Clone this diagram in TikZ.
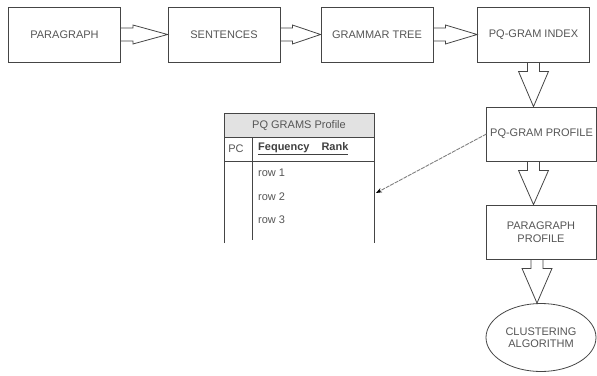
\documentclass[tikz,border=0pt]{standalone}
\usepackage{fontspec}
\setmainfont{Liberation Sans}
\usetikzlibrary{calc,shapes.geometric,arrows.meta}
\definecolor{linegray}{HTML}{454545}
\definecolor{textgray}{HTML}{555555}
\definecolor{headgray}{HTML}{E2E2E2}

% hollow arrow, left to right between two boxes
\newcommand{\harrow}[2]{%
  \draw[fatarrow] let \p1=(#1.east), \p2=(#2.west) in
    (\x1,\y1+6.5pt) -- (\x1+12pt,\y1+6.5pt) -- (\x1+12pt,\y1+9.5pt)
    -- (\x2,\y1) -- (\x1+12pt,\y1-9.5pt) -- (\x1+12pt,\y1-6.5pt) -- (\x1,\y1-6.5pt);}
% hollow arrow, downwards, optional x offset
\newcommand{\varrow}[3][0pt]{%
  \draw[fatarrow] let \p1=(#2.south), \p2=(#3.north), \n1={\x1+(#1)} in
    (\n1-6pt,\y1) -- (\n1-6pt,\y1-9pt) -- (\n1-15pt,\y1-9pt)
    -- (\n1,\y2) -- (\n1+15pt,\y1-9pt) -- (\n1+6pt,\y1-9pt) -- (\n1+6pt,\y1);}

\begin{document}
\begin{tikzpicture}[x=1pt, y=-1pt,
    box/.style={draw=linegray, line width=0.8pt, minimum width=112pt, minimum height=55pt,
      font=\fontsize{11}{12.5}\selectfont, text=textgray, align=center},
    oval/.style={ellipse, draw=linegray, line width=0.8pt, minimum width=110pt, minimum height=68pt,
      font=\fontsize{11}{12.5}\selectfont, text=textgray, align=center},
    fatarrow/.style={draw=linegray, line width=0.8pt, line join=miter},
    tabtext/.style={font=\fontsize{11}{12.5}\selectfont, text=textgray, inner sep=0pt},
    tabline/.style={draw=linegray, line width=0.8pt},
    linkline/.style={draw=gray, line width=0.9pt, dash pattern=on 4pt off 1pt,
      -{Stealth[length=6pt, width=4.5pt, black]}}]
    \useasboundingbox (0,0) rectangle (597,375);

    % Top row
    \node[box] (para) at (64.5,34.5) {PARAGRAPH};
    \node[box] (sent) at (224,34.5) {SENTENCES};
    \node[box] (tree) at (377,34.5) {GRAMMAR TREE};
    \node[box] (pqidx) at (533.5,34.5) {PQ-GRAM INDEX};

    \harrow{para}{sent}
    \harrow{sent}{tree}
    \harrow{tree}{pqidx}

    % Right column
    \node[box, minimum width=109pt, minimum height=54pt] (prof) at (541.5,134) {PQ-GRAM PROFILE};
    \node[box, minimum width=110pt, minimum height=54pt] (ppro) at (541,232) {PARAGRAPH\\PROFILE};
    \node[oval] (clust) at (541,337.5) {CLUSTERING\\ALGORITHM};

    \varrow{pqidx}{prof}
    \varrow[-8pt]{prof}{ppro}
    \varrow[-4pt]{ppro}{clust}

    % Profile table
    \fill[headgray] (224,113) rectangle (374,137);
    \draw[tabline] (224,243) -- (224,113) -- (374,113) -- (374,243);
    \draw[tabline] (224,137) -- (374,137);
    \draw[tabline] (224,161) -- (374,161);
    \draw[tabline] (252,137) -- (252,240);
    \node[tabtext] (thead) at (299,126) {PQ GRAMS Profile};
    \node[tabtext] (tpc) at (236,149) {PC};
    \node[tabtext, anchor=west, text=black!75, font=\fontsize{11}{12.5}\selectfont\bfseries]
      (tcols) at (258,149) {\underline{Fequency\hspace{12pt}Rank}};
    \node[tabtext, anchor=west] (row1) at (258,173) {row 1};
    \node[tabtext, anchor=west] (row2) at (258,197) {row 2};
    \node[tabtext, anchor=west] (row3) at (258,220) {row 3};

    % Link from profile to table
    \coordinate (tabend) at (376,193);
    \draw[linkline] (prof.west) -- (tabend);
\end{tikzpicture}
\end{document}
